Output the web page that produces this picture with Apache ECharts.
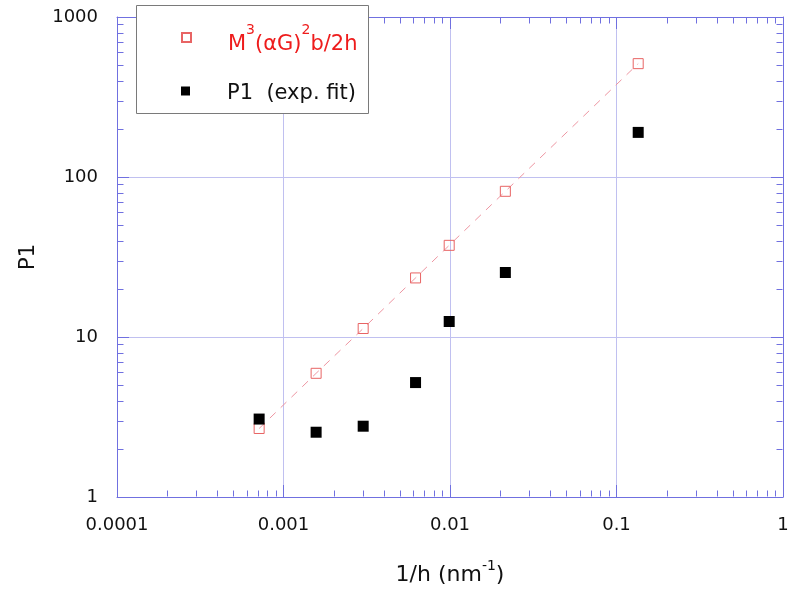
<!DOCTYPE html>
<html>
<head>
<meta charset="utf-8">
<script src="https://cdn.jsdelivr.net/npm/echarts@6/dist/echarts.min.js"></script>
<style>
  html, body { margin: 0; padding: 0; background: #ffffff; }
  #chart { width: 792px; height: 592px; }
</style>
</head>
<body>
<div id="chart"></div>
<script>
// 1/h (nm^-1) for each film thickness
const invH = [0.000714, 0.00157, 0.00301, 0.00621, 0.00989, 0.0215, 0.135];
// model estimate M^3(alpha G)^2 b / 2h
const modelP1 = [2.68, 5.93, 11.3, 23.4, 37.4, 81.4, 511];
// P1 from exponential fit
const fitP1 = [3.07, 2.54, 2.77, 5.19, 12.5, 25.3, 190];

// decade ticks and their labels
const xTickValues = [0.0001, 0.001, 0.01, 0.1, 1];
const xTickLabels = ['0.0001', '0.001', '0.01', '0.1', '1'];
const yTickValues = [1, 10, 100, 1000];
const yTickLabels = ['1', '10', '100', '1000'];

const FONT = 'DejaVu Sans';
const AXIS_COLOR = '#7070e0';
const GRID_COLOR = '#c0c0f0';
const MODEL_COLOR = '#e86464';
const MODEL_TEXT = '#ee1c1c';
const DASH_COLOR = '#ee96a2';
const MINOR_LEN = 6;
const MAJOR_LEN = 12;

// minor ticks at 2..9 within each decade
const minorMantissas = [2, 3, 4, 5, 6, 7, 8, 9];
function minorValues(decades) {
  const out = [];
  for (let i = 0; i < decades.length - 1; i++) {
    minorMantissas.forEach(m => out.push(decades[i] * m));
  }
  return out;
}
const xMinor = minorValues(xTickValues);
const yMinor = minorValues(yTickValues);

function labelFor(values, labels) {
  return function (v) {
    for (let i = 0; i < values.length; i++) {
      if (Math.abs(Math.log10(v) - Math.log10(values[i])) < 1e-6) return labels[i];
    }
    return '';
  };
}

const pairs = (xs, ys) => xs.map((x, i) => [x, ys[i]]);

function logAxis(values, splitNumber, extra) {
  return Object.assign({
    type: 'log', logBase: 10,
    min: values[0], max: values[values.length - 1],
    splitNumber: splitNumber,
    axisLine: { show: true, onZero: false, lineStyle: { color: AXIS_COLOR, width: 1, opacity: 1 } },
    axisTick: { show: true, inside: true, length: MAJOR_LEN, lineStyle: { color: AXIS_COLOR, width: 1 } },
    minorTick: { show: false },
    minorSplitLine: { show: false }
  }, extra);
}

const chart = echarts.init(document.getElementById('chart'), null, { renderer: 'canvas' });

chart.setOption({
  animation: false,
  backgroundColor: '#ffffff',
  textStyle: { fontFamily: FONT },
  grid: { left: 117, right: 9, top: 17, bottom: 95, containLabel: false },
  xAxis: [
    logAxis(xTickValues, 4, {
      position: 'bottom',
      axisLabel: { show: true, margin: 19, color: '#111', fontSize: 18, fontFamily: FONT,
                   formatter: labelFor(xTickValues, xTickLabels) },
      splitLine: { show: true, lineStyle: { color: GRID_COLOR, width: 1 } },
      name: '{t|1/h (nm}{s|-1}{t|)}',
      nameLocation: 'middle',
      nameGap: 62,
      nameTextStyle: {
        rich: {
          t: { fontSize: 22, color: '#111', fontFamily: FONT },
          s: { fontSize: 14, color: '#111', fontFamily: FONT, padding: [0, 0, 18, 0] }
        }
      }
    }),
    logAxis(xTickValues, 4, {
      position: 'top',
      axisLabel: { show: false },
      splitLine: { show: false }
    })
  ],
  yAxis: [
    logAxis(yTickValues, 3, {
      position: 'left',
      axisLabel: { show: true, margin: 19, color: '#111', fontSize: 18, fontFamily: FONT,
                   formatter: labelFor(yTickValues, yTickLabels) },
      splitLine: { show: true, lineStyle: { color: GRID_COLOR, width: 1 } },
      name: 'P1',
      nameLocation: 'middle',
      nameGap: 78,
      nameTextStyle: { fontSize: 21, color: '#111', fontFamily: FONT }
    }),
    logAxis(yTickValues, 3, {
      position: 'right',
      axisLabel: { show: false },
      splitLine: { show: false }
    })
  ],
  legend: [
    {
      data: ['model'],
      orient: 'vertical',
      left: 181, top: 23,
      padding: 0,
      itemWidth: 9, itemHeight: 9,
      selectedMode: false,
      formatter: () => '{gap|}{t|M}{s|3}{t|(αG)}{s|2}{t|b/2h}',
      textStyle: {
        rich: {
          gap: { width: 32 },
          t: { fontSize: 21, color: MODEL_TEXT, fontFamily: FONT, padding: [14, 0, 0, 0] },
          s: { fontSize: 14, color: MODEL_TEXT, fontFamily: FONT, padding: [0, 0, 15, 0] }
        }
      }
    },
    {
      data: ['fit'],
      orient: 'vertical',
      left: 181, top: 83,
      padding: 0,
      itemWidth: 9, itemHeight: 9,
      selectedMode: false,
      formatter: () => '{gap|}{t|P1  (exp. fit)}',
      textStyle: {
        rich: {
          gap: { width: 32 },
          t: { fontSize: 21, color: '#111', fontFamily: FONT, padding: [5, 0, 0, 0] }
        }
      }
    }
  ],
  graphic: [
    {
      type: 'rect', z: 3,
      shape: { x: 136.5, y: 5.5, width: 232, height: 108 },
      style: { fill: '#ffffff', stroke: '#7a7a7a', lineWidth: 1 }
    }
  ],
  series: [
    {
      // minor ticks on all four sides
      type: 'custom',
      silent: true,
      z: 1,
      xAxisIndex: 0, yAxisIndex: 0,
      data: [[xTickValues[1], yTickValues[1]]],
      renderItem(params, api) {
        const cs = params.coordSys;
        const left = Math.round(cs.x) + 0.5, right = Math.round(cs.x + cs.width) - 0.5;
        const top = Math.round(cs.y) + 0.5, bottom = Math.round(cs.y + cs.height) - 0.5;
        const children = [];
        const style = { stroke: AXIS_COLOR, lineWidth: 1 };
        xMinor.forEach(v => {
          const px = Math.round(api.coord([v, yTickValues[0]])[0]) + 0.5;
          children.push({ type: 'line', shape: { x1: px, y1: bottom, x2: px, y2: bottom - MINOR_LEN }, style });
          children.push({ type: 'line', shape: { x1: px, y1: top, x2: px, y2: top + MINOR_LEN }, style });
        });
        yMinor.forEach(v => {
          const py = Math.round(api.coord([xTickValues[0], v])[1]) + 0.5;
          children.push({ type: 'line', shape: { x1: left, y1: py, x2: left + MINOR_LEN, y2: py }, style });
          children.push({ type: 'line', shape: { x1: right, y1: py, x2: right - MINOR_LEN, y2: py }, style });
        });
        return { type: 'group', children };
      }
    },
    {
      // dashed guide through the model points
      type: 'line',
      name: 'model-guide',
      data: pairs(invH, modelP1),
      showSymbol: false,
      symbol: 'none',
      silent: true,
      z: 2,
      lineStyle: { color: DASH_COLOR, width: 1, type: [8, 7], opacity: 1 }
    },
    {
      type: 'scatter',
      name: 'model',
      data: pairs(invH, modelP1),
      symbol: 'rect',
      symbolSize: 10,
      z: 3,
      itemStyle: { color: 'rgba(255,255,255,0)', borderColor: MODEL_COLOR, borderWidth: 1, opacity: 1 }
    },
    {
      type: 'scatter',
      name: 'fit',
      data: pairs(invH, fitP1),
      symbol: 'rect',
      symbolSize: 11,
      z: 3,
      itemStyle: { color: '#000000', opacity: 1 }
    }
  ]
});
</script>
</body>
</html>
